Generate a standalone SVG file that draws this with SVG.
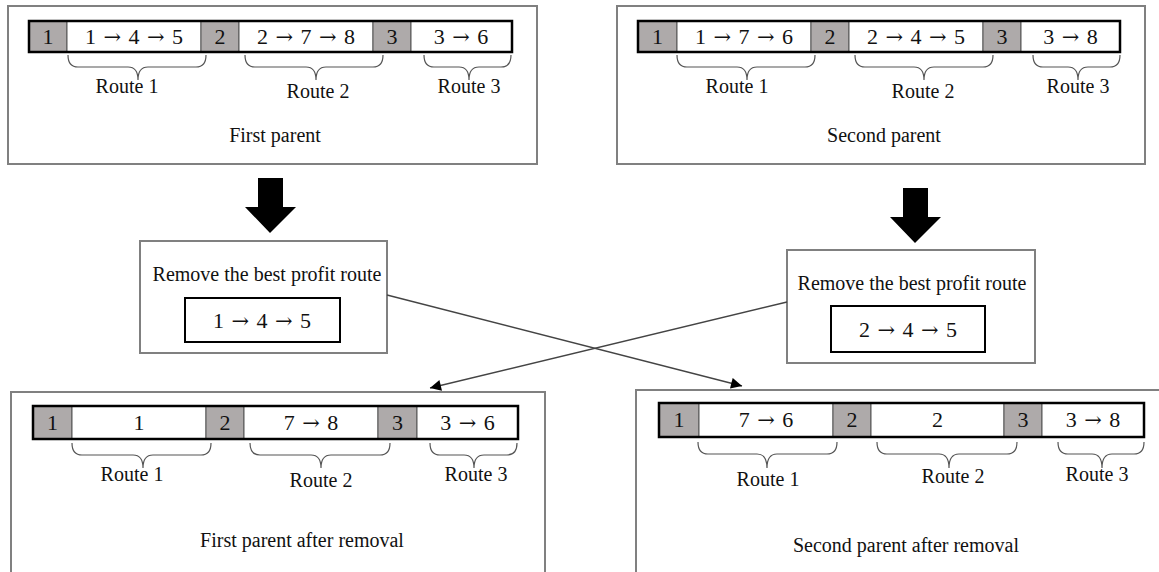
<svg xmlns="http://www.w3.org/2000/svg" width="1159" height="572" viewBox="0 0 1159 572">
<defs>
<style>
.frame{fill:#fff;stroke:#808080;stroke-width:2}
.inner{fill:#fff;stroke:#000;stroke-width:2}
.g{fill:#aeaaaa;stroke:#555;stroke-width:1}
.w{fill:#fff;stroke:#555;stroke-width:1}
.bar{fill:none;stroke:#000;stroke-width:2.5}
.brace{fill:none;stroke:#555;stroke-width:1.2}
.t{font-family:"Liberation Serif","Times New Roman",serif;font-size:20px;fill:#111;text-anchor:middle}
.n{font-family:"Liberation Serif","Times New Roman",serif;font-size:22px;fill:#111;text-anchor:middle;word-spacing:2px}
.a{font-family:"DejaVu Serif","DejaVu Sans",serif;font-size:21px}
.big{fill:#000}
.conn{stroke:#444;stroke-width:1.3;fill:none}
</style>
<marker id="ah" viewBox="0 0 10 10" refX="10" refY="5" markerWidth="14" markerHeight="11" markerUnits="userSpaceOnUse" orient="auto">
<path d="M0,0 L10,5 L0,10 z" fill="#000"/>
</marker>
</defs>
<rect width="1159" height="572" fill="#fff"/>

<g id="first-parent">
<rect class="frame" x="8" y="6" width="529" height="158"/>
<rect class="g" x="29" y="21" width="38" height="31"/>
<rect class="w" x="67" y="21" width="134" height="31"/>
<rect class="g" x="201" y="21" width="38" height="31"/>
<rect class="w" x="239" y="21" width="134" height="31"/>
<rect class="g" x="373" y="21" width="38" height="31"/>
<rect class="w" x="411" y="21" width="101" height="31"/>
<rect class="bar" x="29" y="21" width="483" height="31"/>
<text class="n" x="48" y="44">1</text>
<text class="n" x="134" y="44">1 <tspan class="a">→</tspan> 4 <tspan class="a">→</tspan> 5</text>
<text class="n" x="220" y="44">2</text>
<text class="n" x="306" y="44">2 <tspan class="a">→</tspan> 7 <tspan class="a">→</tspan> 8</text>
<text class="n" x="392" y="44">3</text>
<text class="n" x="461" y="44">3 <tspan class="a">→</tspan> 6</text>
<path class="brace" d="M68,55 Q68,67 78,67 L128,67 Q138,67 138,80 Q138,67 148,67 L196,67 Q206,67 206,55"/>
<path class="brace" d="M245,55 Q245,67 255,67 L306,67 Q316,67 316,80 Q316,67 326,67 L373,67 Q383,67 383,55"/>
<path class="brace" d="M424,55 Q424,67 434,67 L459,67 Q469,67 469,80 Q469,67 479,67 L501,67 Q511,67 511,55"/>
<text class="t" x="127" y="93">Route 1</text>
<text class="t" x="318" y="98">Route 2</text>
<text class="t" x="469" y="93">Route 3</text>
<text class="t" x="275" y="142">First parent</text>
</g>

<g id="second-parent">
<rect class="frame" x="617" y="6" width="528" height="158"/>
<rect class="g" x="638" y="21" width="39" height="31"/>
<rect class="w" x="677" y="21" width="134" height="31"/>
<rect class="g" x="811" y="21" width="38" height="31"/>
<rect class="w" x="849" y="21" width="134" height="31"/>
<rect class="g" x="983" y="21" width="38" height="31"/>
<rect class="w" x="1021" y="21" width="99" height="31"/>
<rect class="bar" x="638" y="21" width="482" height="31"/>
<text class="n" x="657.5" y="44">1</text>
<text class="n" x="744" y="44">1 <tspan class="a">→</tspan> 7 <tspan class="a">→</tspan> 6</text>
<text class="n" x="830" y="44">2</text>
<text class="n" x="916" y="44">2 <tspan class="a">→</tspan> 4 <tspan class="a">→</tspan> 5</text>
<text class="n" x="1002" y="44">3</text>
<text class="n" x="1070.5" y="44">3 <tspan class="a">→</tspan> 8</text>
<path class="brace" d="M677,55 Q677,67 687,67 L737,67 Q747,67 747,80 Q747,67 757,67 L805,67 Q815,67 815,55"/>
<path class="brace" d="M855,55 Q855,67 865,67 L914,67 Q924,67 924,80 Q924,67 934,67 L983,67 Q993,67 993,55"/>
<path class="brace" d="M1033,55 Q1033,67 1043,67 L1068,67 Q1078,67 1078,80 Q1078,67 1088,67 L1110,67 Q1120,67 1120,55"/>
<text class="t" x="737" y="93">Route 1</text>
<text class="t" x="923" y="98">Route 2</text>
<text class="t" x="1078" y="93">Route 3</text>
<text class="t" x="884" y="142">Second parent</text>
</g>

<g id="down-arrow-left">
<path class="big" d="M258,178 L283,178 L283,207 L296,207 L270,233 L245,207 L258,207 z"/>
</g>
<g id="down-arrow-right">
<path class="big" d="M903,188 L928,188 L928,217 L941,217 L915,243 L890,217 L903,217 z"/>
</g>

<g id="remove-left">
<rect class="frame" x="140" y="241" width="247" height="112"/>
<text class="t" x="267" y="281">Remove the best profit route</text>
<rect class="inner" x="185" y="298" width="155" height="44"/>
<text class="n" x="262" y="328">1 <tspan class="a">→</tspan> 4 <tspan class="a">→</tspan> 5</text>
</g>

<g id="remove-right">
<rect class="frame" x="787" y="250" width="248" height="113"/>
<text class="t" x="912" y="290">Remove the best profit route</text>
<rect class="inner" x="831" y="306" width="154" height="46"/>
<text class="n" x="908" y="337">2 <tspan class="a">→</tspan> 4 <tspan class="a">→</tspan> 5</text>
</g>

<g id="first-after">
<rect class="frame" x="11" y="392" width="534" height="200"/>
<rect class="g" x="33" y="406" width="39" height="33"/>
<rect class="w" x="72" y="406" width="134" height="33"/>
<rect class="g" x="206" y="406" width="38" height="33"/>
<rect class="w" x="244" y="406" width="134" height="33"/>
<rect class="g" x="378" y="406" width="39" height="33"/>
<rect class="w" x="417" y="406" width="101" height="33"/>
<rect class="bar" x="33" y="406" width="485" height="33"/>
<text class="n" x="52.5" y="430">1</text>
<text class="n" x="139" y="430">1</text>
<text class="n" x="225" y="430">2</text>
<text class="n" x="311" y="430">7 <tspan class="a">→</tspan> 8</text>
<text class="n" x="397.5" y="430">3</text>
<text class="n" x="467.5" y="430">3 <tspan class="a">→</tspan> 6</text>
<path class="brace" d="M72,443 Q72,455 82,455 L133,455 Q143,455 143,468 Q143,455 153,455 L201,455 Q211,455 211,443"/>
<path class="brace" d="M250,443 Q250,455 260,455 L311,455 Q321,455 321,468 Q321,455 331,455 L380,455 Q390,455 390,443"/>
<path class="brace" d="M430,443 Q430,455 440,455 L464,455 Q474,455 474,468 Q474,455 484,455 L507,455 Q517,455 517,443"/>
<text class="t" x="132" y="481">Route 1</text>
<text class="t" x="321" y="487">Route 2</text>
<text class="t" x="476" y="481">Route 3</text>
<text class="t" x="302" y="547">First parent after removal</text>
</g>

<g id="second-after">
<rect class="frame" x="636" y="390" width="540" height="200"/>
<rect class="g" x="659" y="403" width="40" height="34"/>
<rect class="w" x="699" y="403" width="134" height="34"/>
<rect class="g" x="833" y="403" width="38" height="34"/>
<rect class="w" x="871" y="403" width="133" height="34"/>
<rect class="g" x="1004" y="403" width="38" height="34"/>
<rect class="w" x="1042" y="403" width="102" height="34"/>
<rect class="bar" x="659" y="403" width="485" height="34"/>
<text class="n" x="679" y="427">1</text>
<text class="n" x="766" y="427">7 <tspan class="a">→</tspan> 6</text>
<text class="n" x="852" y="427">2</text>
<text class="n" x="937.5" y="427">2</text>
<text class="n" x="1023" y="427">3</text>
<text class="n" x="1093" y="427">3 <tspan class="a">→</tspan> 8</text>
<path class="brace" d="M698,442 Q698,454 708,454 L757,454 Q767,454 767,468 Q767,454 777,454 L827,454 Q837,454 837,442"/>
<path class="brace" d="M877,442 Q877,454 887,454 L939,454 Q949,454 949,468 Q949,454 959,454 L1007,454 Q1017,454 1017,442"/>
<path class="brace" d="M1058,442 Q1058,454 1068,454 L1092,454 Q1102,454 1102,468 Q1102,454 1112,454 L1134,454 Q1144,454 1144,442"/>
<text class="t" x="768" y="486">Route 1</text>
<text class="t" x="953" y="483">Route 2</text>
<text class="t" x="1097" y="481">Route 3</text>
<text class="t" x="906" y="552">Second parent after removal</text>
</g>

<g id="connectors">
<line class="conn" x1="387" y1="295" x2="742" y2="386" marker-end="url(#ah)"/>
<line class="conn" x1="787" y1="302" x2="430" y2="388" marker-end="url(#ah)"/>
</g>
</svg>
